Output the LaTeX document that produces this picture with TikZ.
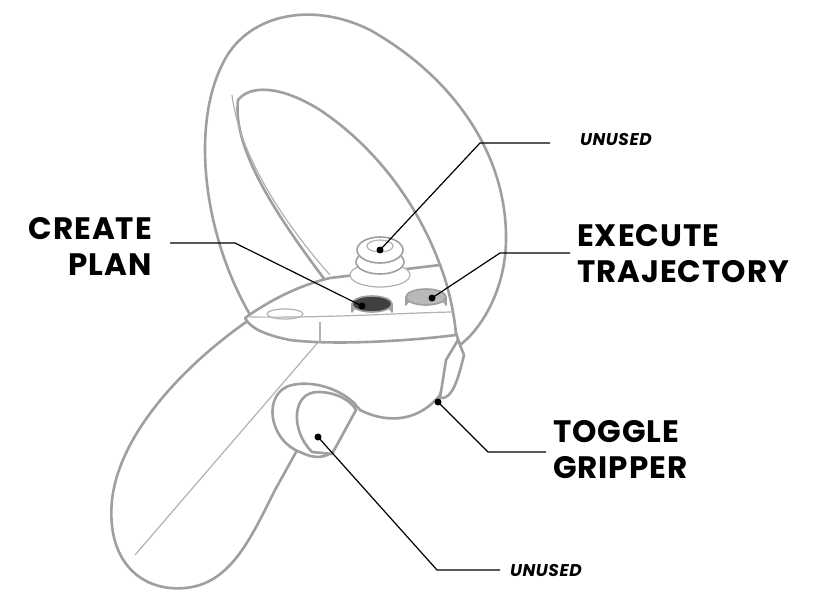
\documentclass[tikz,border=0pt]{standalone}
\usepackage{fontspec}
\setmainfont{Poppins}[LetterSpace=3]
\begin{document}
\begin{tikzpicture}[x=1pt,y=-1pt,
  body/.style={draw=gray!75,line width=2.6pt,line join=round,line cap=round,fill=white},
  thin/.style={draw=gray!60,line width=1.2pt},
  lead/.style={draw=black,line width=1.2pt},
  dotm/.style={circle,fill=black,inner sep=0pt,minimum size=7pt},
  big/.style={font=\fontsize{31}{36}\selectfont\bfseries,inner sep=0pt},
  small/.style={font=\fontsize{17}{18}\selectfont\bfseries\itshape,inner sep=0pt}]
\useasboundingbox (0,0) rectangle (821,596);
% handle
\path[body] (252,318) .. controls (190,360) and (120,430) .. (112,500)
  .. controls (106,560) and (140,592) .. (185,588)
  .. controls (230,584) and (250,540) .. (275,490)
  -- (300,445) .. controls (330,410) and (350,395) .. (360,410)
  .. controls (390,425) and (420,420) .. (440,395)
  .. controls (448,370) and (455,345) .. (460,335) -- cycle;
\draw[thin] (320,340) -- (135,555);
% ring
\path[body] (252,318) .. controls (205,240) and (190,130) .. (222,65)
  .. controls (245,15) and (310,0) .. (370,30)
  .. controls (450,75) and (505,150) .. (506,235)
  .. controls (507,290) and (480,330) .. (460,345)
  -- (445,300) -- (440,265)
  .. controls (420,210) and (380,150) .. (320,110)
  .. controls (280,85) and (250,85) .. (238,100)
  .. controls (232,150) and (280,220) .. (325,280) -- cycle;
\draw[thin] (232,95) .. controls (240,160) and (290,230) .. (330,275);
% trigger
\path[body] (440,398) .. controls (452,400) and (458,380) .. (464,355) -- (458,340) -- (446,360) -- cycle;
% plate
\path[body] (245,318) .. controls (270,300) and (300,285) .. (330,278)
  -- (440,265) .. controls (450,290) and (455,320) .. (456,335)
  .. controls (400,342) and (330,345) .. (290,340)
  .. controls (265,335) and (250,328) .. (245,318) -- cycle;
\draw[thin] (320,322) -- (320,342);
\draw[thin] (250,317) .. controls (330,318) and (400,313) .. (452,312);
\draw[thin] (285,314) ellipse (18 and 5);
% joystick
\draw[thin,fill=white] (380,275) ellipse (30 and 12);
\draw[body,line width=1.6pt] (380,262) ellipse (24 and 12);
\draw[body,line width=1.6pt] (380,250) ellipse (23 and 13);
\draw[thin] (380,246) ellipse (13 and 6);
% buttons
\path[body,line width=1.6pt] (352,304) -- (352,312) arc[start angle=180,end angle=360,x radius=20,y radius=7] -- (392,304) -- cycle;
\draw[body,line width=1.6pt,fill=black!75] (372,304) ellipse (20 and 8);
\path[body,line width=1.6pt] (406,297) -- (406,305) arc[start angle=180,end angle=360,x radius=20,y radius=7] -- (446,297) -- cycle;
\draw[body,line width=1.6pt,fill=gray!55] (426,297) ellipse (20 and 8);
% grip button
\path[body] (300,452) .. controls (268,440) and (262,392) .. (292,385)
  .. controls (315,380) and (342,390) .. (356,405)
  -- (332,452) .. controls (322,460) and (310,457) .. (300,452);
\path[body] (312,452) .. controls (290,430) and (292,392) .. (318,392)
  .. controls (338,392) and (352,402) .. (356,410) -- (332,454) -- cycle;
% leaders
\node[dotm] (d1) at (380,250) {};
\node[dotm] (d2) at (362,306) {};
\node[dotm] (d3) at (432,298) {};
\node[dotm] (d4) at (438,402) {};
\node[dotm] (d5) at (318,437) {};
\coordinate (c1) at (550,143); \coordinate (k1) at (480,143);
\coordinate (c2) at (170,243); \coordinate (k2) at (235,243);
\coordinate (c3) at (570,253); \coordinate (k3) at (500,253);
\coordinate (c4) at (546,452); \coordinate (k4) at (488,452);
\coordinate (c5) at (500,570); \coordinate (k5) at (437,570);
\draw[lead] (c1) -- (k1) -- (d1.center);
\draw[lead] (c2) -- (k2) -- (d2.center);
\draw[lead] (c3) -- (k3) -- (d3.center);
\draw[lead] (c4) -- (k4) -- (d4.center);
\draw[lead] (c5) -- (k5) -- (d5.center);
% labels
\node[small,anchor=west] (t1) at (580,140) {UNUSED};
\node[small,anchor=west] (t5) at (510,571) {UNUSED};
\node[big,anchor=east,align=right] (t2) at (152,246) {CREATE\\PLAN};
\node[big,anchor=west,align=left] (t3) at (577,254) {EXECUTE\\TRAJECTORY};
\node[big,anchor=west,align=left] (t4) at (553,450) {TOGGLE\\GRIPPER};
\end{tikzpicture}
\end{document}
